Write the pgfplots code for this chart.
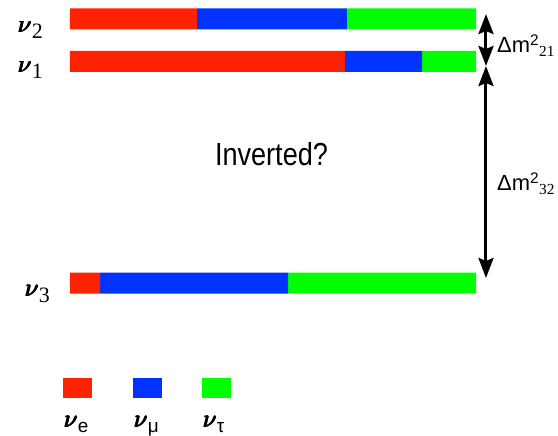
\documentclass[border=0pt]{standalone}
\usepackage{pgfplots}
\pgfplotsset{compat=1.18}
\usetikzlibrary{arrows.meta}
\usepackage{fontspec}
\setmainfont{Liberation Serif}
\newfontfamily\sansf{Liberation Sans}

\definecolor{nue}{RGB}{255,34,0}
\definecolor{numu}{RGB}{0,51,255}
\definecolor{nutau}{RGB}{0,255,0}

% heavy italic nu: the math glyph overstruck with small shifts
\newcommand{\nuone}{$\nu$}
\newcommand{\nuglyph}{{\fontsize{34}{36}\selectfont
  \makebox[0pt][l]{\nuone}%
  \makebox[0pt][l]{\hspace{0.6bp}\nuone}%
  \makebox[0pt][l]{\hspace{1.2bp}\nuone}%
  \makebox[0pt][l]{\hspace{0.6bp}\raisebox{0.5bp}{\nuone}}%
  \hspace{1.2bp}\nuone}}
\newcommand{\nustate}[1]{\nuglyph\raisebox{-6bp}{\fontsize{22}{24}\selectfont #1}}
\newcommand{\nuflav}[1]{\nuglyph\raisebox{-5bp}{\fontsize{19}{20}\selectfont\sansf #1}}
\newcommand{\dmsq}[1]{{\sansf\fontsize{22}{24}\selectfont Δm\textsuperscript{2}}{\fontsize{22}{24}\selectfont\textsubscript{#1}}}
\tikzset{split/.style={{Stealth[length=20bp,width=15bp,inset=3bp]}-{Stealth[length=20bp,width=15bp,inset=3bp]}, line width=3bp}}

\begin{document}
\begin{tikzpicture}
\begin{axis}[
  scale only axis,
  width=558bp, height=431bp,
  xmin=-0.17241, xmax=1.20197,
  ymin=0, ymax=431, y dir=reverse,
  hide axis,
  clip=false,
  xbar stacked,
  bar width=21,
]
% flavour content of each mass state (fractions sum to 1)
\addplot[fill=nue, draw=none]   coordinates {(0.313,18.8) (0.677,61.5) (0.074,283.2)};
\addplot[fill=numu, draw=none]  coordinates {(0.369,18.8) (0.190,61.5) (0.463,283.2)};
\addplot[fill=nutau, draw=none] coordinates {(0.318,18.8) (0.133,61.5) (0.463,283.2)};

% frame of the picture
\path (rel axis cs:0,0) (rel axis cs:1,1);

% state labels
\node[anchor=base west, inner sep=0pt] at (axis cs:-0.1305,33) {\nustate{2}};
\node[anchor=base west, inner sep=0pt] at (axis cs:-0.1305,73) {\nustate{1}};
\node[anchor=base west, inner sep=0pt] at (axis cs:-0.1133,296) {\nustate{3}};

% mass splittings
\draw[split] (axis cs:1.0246,14) -- (axis cs:1.0246,66);
\draw[split] (axis cs:1.0246,66) -- (axis cs:1.0246,278);
\node[anchor=base west, inner sep=0pt] at (axis cs:1.0517,53) {\dmsq{21}};
\node[anchor=base west, inner sep=0pt] at (axis cs:1.0517,191) {\dmsq{32}};

% ordering caption
\node[anchor=base, inner sep=0pt, xscale=0.85] at (axis cs:0.4963,166)
  {\sansf\fontsize{32}{36}\selectfont Inverted?};

% flavour key
\fill[nue]   (axis cs:-0.01724,378) rectangle (axis cs:0.0542,398);
\fill[numu]  (axis cs:0.1552,378) rectangle (axis cs:0.2266,398);
\fill[nutau] (axis cs:0.3251,378) rectangle (axis cs:0.3966,398);
\node[anchor=base west, inner sep=0pt] at (axis cs:-0.01724,427) {\nuflav{e}};
\node[anchor=base west, inner sep=0pt] at (axis cs:0.1552,427) {\nuflav{μ}};
\node[anchor=base west, inner sep=0pt] at (axis cs:0.3251,427) {\nuflav{τ}};
\end{axis}
\end{tikzpicture}
\end{document}
